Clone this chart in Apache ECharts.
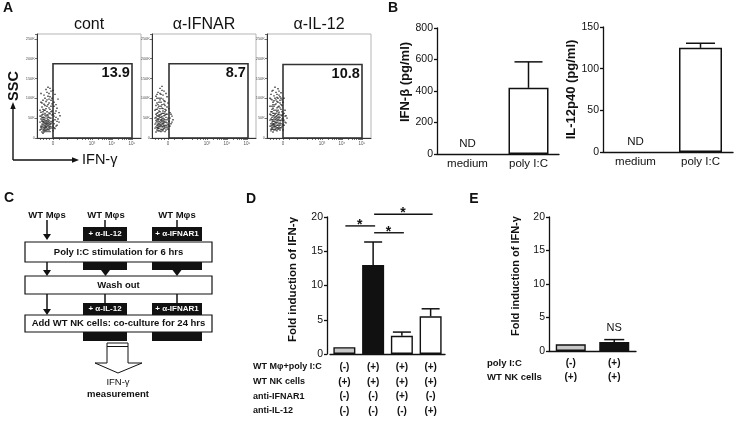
<!DOCTYPE html>
<html><head><meta charset="utf-8">
<script src="https://cdn.jsdelivr.net/npm/echarts@6/dist/echarts.min.js"></script>
<style>html,body{margin:0;padding:0;background:#fff}#c{width:737px;height:421px}</style>
</head><body><div id="c"></div><script>
const FONT = "'Liberation Sans', Arial, Helvetica, sans-serif";
const INK = '#111';

// ---------- Panel A : flow cytometry ----------
const flowTitles = ['cont', 'α-IFNAR', 'α-IL-12'];
const gatePercents = ['13.9', '8.7', '10.8'];
// gate: [xStart, xEnd, yStart(K), yEnd(K)] in display units
const gateBounds = [[16, 95, 0, 187], [17, 96, 0, 187], [16, 95, 0, 185]];
const flowXTicks = [3, 6, 9, 12, 16, 22, 30, 40, 45, 48, 51, 53, 55, 61, 65, 67, 69, 71, 72, 73, 74, 75, 81, 85, 87, 89, 91, 92, 93, 94, 95];
const flowXLabelPos = [16, 55, 75, 95];
const flowXLabels = ['0', '10³', '10⁴', '10⁵'];
const flowYLabels = ['0', '50K', '100K', '150K', '200K', '250K'];
const contDots = [[4,22],[5,35],[6,28],[7,41],[8,19],[9,33],[10,25],[11,47],[12,30],[13,38],[5,52],[6,60],[7,18],[8,45],[9,55],[10,38],[11,22],[12,63],[13,50],[14,28],[3,40],[4,65],[5,78],[6,48],[7,85],[8,70],[9,92],[10,80],[11,105],[12,88],[13,72],[14,95],[15,58],[16,44],[17,36],[18,62],[19,30],[20,75],[21,48],[22,40],[17,90],[18,110],[19,52],[16,120],[15,100],[14,118],[13,125],[12,112],[11,128],[10,115],[9,122],[8,100],[7,108],[6,95],[5,88],[4,112],[3,70],[4,48],[5,15],[6,12],[7,26],[8,31],[9,16],[10,44],[11,36],[12,20],[13,16],[14,42],[15,25],[16,18],[17,55],[18,24],[20,32],[23,56],[21,98],[19,84],[15,68],[14,80],[12,76],[10,66],[8,58],[6,72],[4,30],[3,20],[9,40],[7,33],[11,58],[13,61],[5,42],[8,24],[10,30],[12,44],[6,38],[9,28],[7,52],
  [5,25],[6,33],[7,22],[8,37],[9,27],[10,20],[11,31],[12,26],[13,34],[4,27],[5,45],[6,20],[7,38],[8,28],[9,43],[10,50],[11,41],[12,35],[13,29],[14,36],[6,52],[7,46],[8,62],[9,36],[10,58],[11,53],[12,40],[5,58],[4,55],[6,66],[7,70],[8,82],[9,74],[10,96],[11,84],[12,98],[13,104],[14,66],[15,40],[16,30],[17,26],[18,46],[19,68],[20,42],[5,30],[7,15],[9,20],[11,16],[13,24],[6,42],[8,50],[10,35],[12,52],[14,50],[16,60],[15,86],[17,80],[4,90],[3,55],[22,64]];
const ifnarDots = [[3,25],[4,38],[5,20],[6,45],[7,30],[8,52],[9,22],[10,35],[11,28],[12,48],[13,40],[14,32],[15,26],[4,60],[5,72],[6,55],[7,80],[8,66],[9,90],[10,75],[11,62],[12,85],[13,58],[14,70],[3,95],[4,105],[5,88],[6,115],[7,100],[8,125],[9,110],[10,130],[11,98],[12,118],[13,92],[15,78],[16,50],[17,42],[18,64],[19,36],[20,55],[18,30],[16,88],[15,104],[14,112],[3,50],[4,15],[5,32],[6,18],[7,42],[8,28],[9,60],[10,20],[11,44],[12,24],[13,16],[14,52],[15,38],[16,22],[5,62],[6,34],[7,24],[8,40],[9,46],[10,54],[11,36],[12,30],[13,66],[9,32],[7,58],[6,26],[8,18],[10,42],[11,50],[12,38],[4,44],[5,48],[3,35],[14,20],[15,60],[21,46],[17,74],[13,82],[11,74],[9,80],[7,68],[5,100],[6,84],
  [4,28],[5,42],[6,24],[7,36],[8,30],[9,44],[10,28],[11,38],[12,32],[13,26],[4,52],[5,26],[6,38],[7,48],[8,34],[9,38],[10,48],[11,22],[12,56],[13,46],[6,64],[7,54],[8,74],[9,52],[10,62],[11,68],[12,42],[5,56],[4,72],[6,76],[7,90],[8,96],[9,100],[10,84],[11,108],[12,94],[13,72],[14,60],[15,46],[16,34],[17,30],[18,50],[6,30],[7,18],[9,16],[11,18],[13,30],[6,48],[8,58],[10,30],[12,62],[14,40],[15,30],[4,82],[3,70],[5,110],[8,112],[10,120],[19,60],[20,40]];
const il12Dots = [[3,30],[4,22],[5,40],[6,28],[7,50],[8,35],[9,25],[10,44],[11,32],[12,55],[13,38],[14,26],[15,48],[4,58],[5,66],[6,75],[7,62],[8,84],[9,70],[10,92],[11,78],[12,65],[13,88],[14,72],[3,100],[4,110],[5,96],[6,120],[7,106],[8,128],[9,115],[10,102],[11,124],[12,108],[13,95],[14,114],[15,82],[16,60],[17,45],[18,70],[19,38],[17,100],[16,34],[18,55],[3,45],[4,18],[5,26],[6,15],[7,36],[8,22],[9,48],[10,18],[11,40],[12,24],[13,20],[14,44],[15,30],[16,20],[5,52],[6,42],[7,28],[8,46],[9,38],[10,56],[11,26],[12,36],[13,52],[9,30],[7,20],[6,56],[8,60],[10,32],[11,60],[12,45],[4,36],[5,32],[3,60],[14,58],[15,66],[20,50],[16,90],[13,76],[11,90],[9,86],[7,80],[5,80],[6,90],[10,66],
  [4,30],[5,46],[6,34],[7,42],[8,28],[9,40],[10,26],[11,46],[12,30],[13,44],[4,48],[5,22],[6,46],[7,56],[8,40],[9,54],[10,38],[11,52],[12,60],[13,32],[6,62],[7,70],[8,52],[9,62],[10,76],[11,70],[12,80],[5,72],[4,66],[6,84],[7,94],[8,100],[9,96],[10,110],[11,100],[12,118],[13,104],[14,84],[15,56],[16,44],[17,32],[18,40],[6,22],[7,32],[9,20],[11,22],[13,26],[6,36],[8,30],[10,50],[12,50],[14,36],[16,50],[15,96],[17,62],[4,98],[3,80],[5,118],[19,56],[14,100]];
const flowDots = [contDots, ifnarDots, il12Dots];

// ---------- Panel B ----------
const bCats = ['medium', 'poly I:C'];
const ifnbValues = [null, 420];     // null = ND
const ifnbErrTop = [null, 585];
const il12Values = [null, 125];
const il12ErrTop = [null, 130.5];

// ---------- Panel D ----------
const dGroups = ['medium', 'poly I:C', 'poly I:C + anti-IFNAR1', 'poly I:C + anti-IL-12'];
const dValues = [1, 13, 2.65, 5.5];
const dErrTop = [null, 16.35, 3.2, 6.6];
const dColors = ['#c8c8c8', '#111', '#fff', '#fff'];
const dRowNames = ['WT Mφ+poly I:C', 'WT NK cells', 'anti-IFNAR1', 'anti-IL-12'];
const dTable = [['(-)','(+)','(+)','(+)'], ['(+)','(+)','(+)','(+)'], ['(-)','(-)','(+)','(-)'], ['(-)','(-)','(-)','(+)']];
const dSig = [[0, 1, 18.7], [1, 2, 17.7], [1, 3, 20.4]];

// ---------- Panel E ----------
const eGroups = ['medium', 'poly I:C'];
const eValues = [1, 1.35];
const eErrTop = [null, 1.7];
const eColors = ['#c8c8c8', '#111'];
const eRowNames = ['poly I:C', 'WT NK cells'];
const eTable = [['(-)', '(+)'], ['(+)', '(+)']];

// ================= layout =================
const flowGridLefts = [37, 152, 267];
const grids = flowGridLefts.map(l => ({left: l, top: 34, width: 104, height: 104, show: true, borderColor: '#b5b5b5', borderWidth: 1}));
grids.push({left: 437, top: 28, width: 122, height: 126});   // 3 B1
grids.push({left: 603, top: 27, width: 130, height: 125});   // 4 B2
grids.push({left: 330, top: 217, width: 115, height: 137});  // 5 D
grids.push({left: 549, top: 217, width: 87, height: 134});   // 6 E

const xAxes = [], yAxes = [], series = [];
const axisLineStyle = {color: INK, width: 1.3};

for (let i = 0; i < 3; i++) {
  xAxes.push({gridIndex: i, type: 'value', min: 0, max: 104,
    axisLine: {show: true, onZero: false, lineStyle: {color: '#333', width: 1}},
    axisTick: {show: true, customValues: flowXTicks, length: 2, lineStyle: {color: '#333', width: 0.7}},
    axisLabel: {show: true, customValues: flowXLabelPos, formatter: v => flowXLabels[flowXLabelPos.indexOf(v)], fontSize: 4.5, color: '#555', margin: 3, fontFamily: FONT},
    splitLine: {show: false}});
  yAxes.push({gridIndex: i, type: 'value', min: 0, max: 262, interval: 50,
    axisLine: {show: true, lineStyle: {color: '#333', width: 1}},
    axisTick: {show: true, length: 2, lineStyle: {color: '#333', width: 0.7}},
    axisLabel: {show: true, formatter: v => flowYLabels[v / 50] || '', fontSize: 4, color: '#555', margin: 2, fontFamily: FONT},
    splitLine: {show: false}});
  const g = gateBounds[i];
  series.push({type: 'scatter', xAxisIndex: i, yAxisIndex: i, data: flowDots[i], symbol: 'rect', symbolSize: 1.4,
    itemStyle: {color: '#222', opacity: 0.9}, silent: true, animation: false,
    markArea: {silent: true, itemStyle: {color: 'rgba(0,0,0,0)', borderColor: '#333', borderWidth: 1.6},
      label: {show: true, position: 'insideTopRight', distance: 3, formatter: gatePercents[i], fontSize: 14.5, fontWeight: 'bold', color: INK, fontFamily: FONT},
      data: [[{xAxis: g[0], yAxis: g[2]}, {xAxis: g[1], yAxis: g[3]}]]}});
}

function catX(gi, cats, labelOpt) {
  return Object.assign({gridIndex: gi, type: 'category', data: cats,
    axisLine: {show: true, lineStyle: axisLineStyle}, axisTick: {show: false},
    axisLabel: {fontSize: 11.5, color: INK, margin: 4, fontFamily: FONT, interval: 0}}, labelOpt || {});
}
function valY(gi, max, interval, name, gap, nameSize, shiftUp) {
  return {gridIndex: gi, type: 'value', min: 0, max: max, interval: interval,
    name: name, nameLocation: 'middle', nameGap: gap,
    nameTextStyle: {fontSize: nameSize, fontWeight: 'bold', color: INK, fontFamily: FONT, padding: [0, 0, 0, shiftUp || 0]},
    axisLine: {show: true, lineStyle: axisLineStyle},
    axisTick: {show: true, length: 3, lineStyle: axisLineStyle},
    axisLabel: {fontSize: 10.5, color: INK, margin: 4, fontFamily: FONT},
    splitLine: {show: false}};
}
xAxes.push(catX(3, bCats)); yAxes.push(valY(3, 800, 200, 'IFN-β (pg/ml)', 19, 13, 18));
xAxes.push(catX(4, bCats)); yAxes.push(valY(4, 150, 50, 'IL-12p40 (pg/ml)', 25, 13, 0));
xAxes.push(catX(5, dGroups, {axisLabel: {interval: 0, margin: 6, lineHeight: 14.6, fontSize: 10, fontWeight: 'bold', color: INK, fontFamily: FONT,
  formatter: (v, idx) => dTable.map(r => r[idx]).join('\n')}}));
yAxes.push(Object.assign(valY(5, 20, 5, 'Fold induction of IFN-γ', 28, 11.5, 12), {offset: 3}));
xAxes.push(catX(6, eGroups, {axisLabel: {interval: 0, margin: 5, lineHeight: 14, fontSize: 10, fontWeight: 'bold', color: INK, fontFamily: FONT,
  formatter: (v, idx) => eTable.map(r => r[idx]).join('\n')}}));
yAxes.push(valY(6, 20, 5, 'Fold induction of IFN-γ', 28, 11, 16));

function errSeries(gi, values, tops, capW) {
  const data = [];
  values.forEach((v, i) => { if (v !== null && tops[i] !== null) data.push([i, v, tops[i]]); });
  return {type: 'custom', xAxisIndex: gi, yAxisIndex: gi, data: data, silent: true, clip: false, z: 3,
    encode: {x: 0, y: [1, 2]},
    renderItem: (params, api) => {
      const p0 = api.coord([api.value(0), api.value(1)]);
      const p1 = api.coord([api.value(0), api.value(2)]);
      const st = {stroke: INK, lineWidth: 1.5};
      return {type: 'group', children: [
        {type: 'line', shape: {x1: p0[0], y1: p0[1], x2: p1[0], y2: p1[1]}, style: st},
        {type: 'line', shape: {x1: p1[0] - capW / 2, y1: p1[1], x2: p1[0] + capW / 2, y2: p1[1]}, style: st}]};
    }};
}
function ndBar(gi, values, width) {
  return {type: 'bar', xAxisIndex: gi, yAxisIndex: gi, barWidth: width, silent: true,
    itemStyle: {color: '#fff', borderColor: INK, borderWidth: 1.5},
    data: values.map(v => v === null ? {value: 0, itemStyle: {borderWidth: 0},
      label: {show: true, position: 'top', distance: 4, formatter: 'ND', fontSize: 11.5, color: INK, fontFamily: FONT}} : v)};
}
series.push(ndBar(3, ifnbValues, 40));
series.push(errSeries(3, ifnbValues, ifnbErrTop, 28));
series.push(ndBar(4, il12Values, 43));
series.push(errSeries(4, il12Values, il12ErrTop, 29));

series.push({type: 'bar', xAxisIndex: 5, yAxisIndex: 5, barWidth: 22, silent: true,
  data: dValues.map((v, i) => ({value: v, itemStyle: {color: dColors[i], borderColor: INK, borderWidth: 1.4}}))});
series.push(errSeries(5, dValues, dErrTop, 18));
series.push({type: 'custom', xAxisIndex: 5, yAxisIndex: 5, data: dSig, silent: true, clip: false, z: 4,
  encode: {x: [0, 1], y: 2},
  renderItem: (params, api) => {
    const a = api.coord([api.value(0), api.value(2)]);
    const b = api.coord([api.value(1), api.value(2)]);
    return {type: 'group', children: [
      {type: 'line', shape: {x1: a[0] + 1, y1: a[1], x2: b[0] + 2, y2: b[1]}, style: {stroke: INK, lineWidth: 1.4}},
      {type: 'text', x: (a[0] + b[0]) / 2 + 1, y: a[1] - 1, style: {text: '*', fontSize: 14, fontWeight: 'bold', fill: INK, align: 'center', verticalAlign: 'middle', fontFamily: FONT}}]};
  }});

series.push({type: 'bar', xAxisIndex: 6, yAxisIndex: 6, barWidth: 30, silent: true,
  data: eValues.map((v, i) => ({value: v, itemStyle: {color: eColors[i], borderColor: INK, borderWidth: 1.4},
    label: i === 1 ? {show: true, position: 'top', distance: 8, formatter: 'NS', fontSize: 11, color: INK, fontFamily: FONT} : {show: false}}))});
series.push(errSeries(6, eValues, eErrTop, 20));

// ================= graphic (letters, titles, diagram) =================
const G = [];
function T(x, y, s, o) {
  G.push(Object.assign({type: 'text', x: x, y: y, silent: true,
    style: Object.assign({text: s, fontSize: 10, fontWeight: 'normal', fontFamily: FONT, fill: INK, align: 'center', verticalAlign: 'middle'}, (o && o.style) || {})},
    o ? {rotation: o.rotation || 0} : {}));
}
function R(x, y, w, h, fill, lw) { G.push({type: 'rect', silent: true, shape: {x: x, y: y, width: w, height: h}, style: {fill: fill, stroke: INK, lineWidth: lw === undefined ? 1.2 : lw}}); }
function L(x1, y1, x2, y2, lw) { G.push({type: 'line', silent: true, shape: {x1: x1, y1: y1, x2: x2, y2: y2}, style: {stroke: INK, lineWidth: lw || 1.5}}); }
function P(pts, fill, lw) { G.push({type: 'polygon', silent: true, shape: {points: pts}, style: {fill: fill, stroke: fill === '#fff' ? INK : null, lineWidth: lw || 0}}); }
function downArrow(x, y1, y2) { L(x, y1, x, y2 - 5, 1.5); P([[x - 4, y2 - 6], [x + 4, y2 - 6], [x, y2]], INK); }

const bold = s => ({style: Object.assign({fontWeight: 'bold'}, s || {})});
// panel letters
T(8, 8, 'A', bold({fontSize: 14}));
T(393, 8, 'B', bold({fontSize: 14}));
T(9, 198, 'C', bold({fontSize: 14}));
T(251, 199, 'D', bold({fontSize: 14}));
T(474, 199, 'E', bold({fontSize: 14}));
// flow titles
flowTitles.forEach((t, i) => T(flowGridLefts[i] + 52, 25, t, {style: {fontSize: 16}}));
// flow axis arrows
T(14, 86, 'SSC', {rotation: Math.PI / 2, style: {fontSize: 14.5, fontWeight: 'bold'}});
L(13, 108, 13, 160, 1.4); L(13, 160, 73, 160, 1.4);
P([[10.3, 109], [15.7, 109], [13, 102]], INK);
P([[72, 157.3], [72, 162.7], [79, 160]], INK);
T(82, 160, 'IFN-γ', {style: {fontSize: 14.5, align: 'left'}});

// panel C diagram
const bx1 = [83, 44], bx2 = [152, 50];
T(47, 215, 'WT Mφs', bold({fontSize: 9.5}));
T(106, 215, 'WT Mφs', bold({fontSize: 9.5}));
T(177, 215, 'WT Mφs', bold({fontSize: 9.5}));
downArrow(47, 220, 240);
L(105, 220, 105, 227, 1.5); L(177, 220, 177, 227, 1.5);
R(bx1[0], 227, bx1[1], 14, INK, 0); R(bx2[0], 227, bx2[1], 14, INK, 0);
T(bx1[0] + bx1[1] / 2, 234, '+ α-IL-12', bold({fontSize: 8, fill: '#fff'}));
T(bx2[0] + bx2[1] / 2, 234, '+ α-IFNAR1', bold({fontSize: 8, fill: '#fff'}));
R(25, 242, 187, 20, '#fff', 1.2);
T(118.5, 252, 'Poly I:C stimulation for 6 hrs', bold({fontSize: 9.5}));
R(bx1[0], 262, bx1[1], 8, INK, 0); R(bx2[0], 262, bx2[1], 8, INK, 0);
P([[101, 270], [110, 270], [105.5, 276]], INK); P([[172.5, 270], [181.5, 270], [177, 276]], INK);
downArrow(47, 262, 276);
R(25, 276, 187, 18, '#fff', 1.2);
T(118.5, 285, 'Wash out', bold({fontSize: 9.5}));
downArrow(47, 294, 315);
L(105, 294, 105, 303, 1.5); L(177, 294, 177, 303, 1.5);
R(bx1[0], 303, bx1[1], 12, INK, 0); R(bx2[0], 303, bx2[1], 12, INK, 0);
T(bx1[0] + bx1[1] / 2, 309, '+ α-IL-12', bold({fontSize: 8, fill: '#fff'}));
T(bx2[0] + bx2[1] / 2, 309, '+ α-IFNAR1', bold({fontSize: 8, fill: '#fff'}));
R(25, 315, 187, 17, '#fff', 1.2);
T(118.5, 323.5, 'Add WT NK cells: co-culture for 24 hrs', bold({fontSize: 9.5}));
R(bx1[0], 332, bx1[1], 9, INK, 0); R(bx2[0], 332, bx2[1], 9, INK, 0);
P([[107, 343], [128, 343], [128, 363], [142, 363], [118, 373], [95, 363], [107, 363]], '#fff', 1);
L(107, 346.5, 128, 346.5, 1);
T(118, 382, 'IFN-γ', {style: {fontSize: 9.5}});
T(118, 394, 'measurement', bold({fontSize: 9.5}));

// table row names
dRowNames.forEach((n, i) => T(253, 367 + i * 14.6, n, bold({fontSize: 9, align: 'left'})));
eRowNames.forEach((n, i) => T(487, 363 + i * 14, n, bold({fontSize: 9.5, align: 'left'})));

const chart = echarts.init(document.getElementById('c'), null, {renderer: 'canvas'});
chart.setOption({animation: false, backgroundColor: '#fff', textStyle: {fontFamily: FONT},
  grid: grids, xAxis: xAxes, yAxis: yAxes, series: series, graphic: {elements: G}});
</script></body></html>
